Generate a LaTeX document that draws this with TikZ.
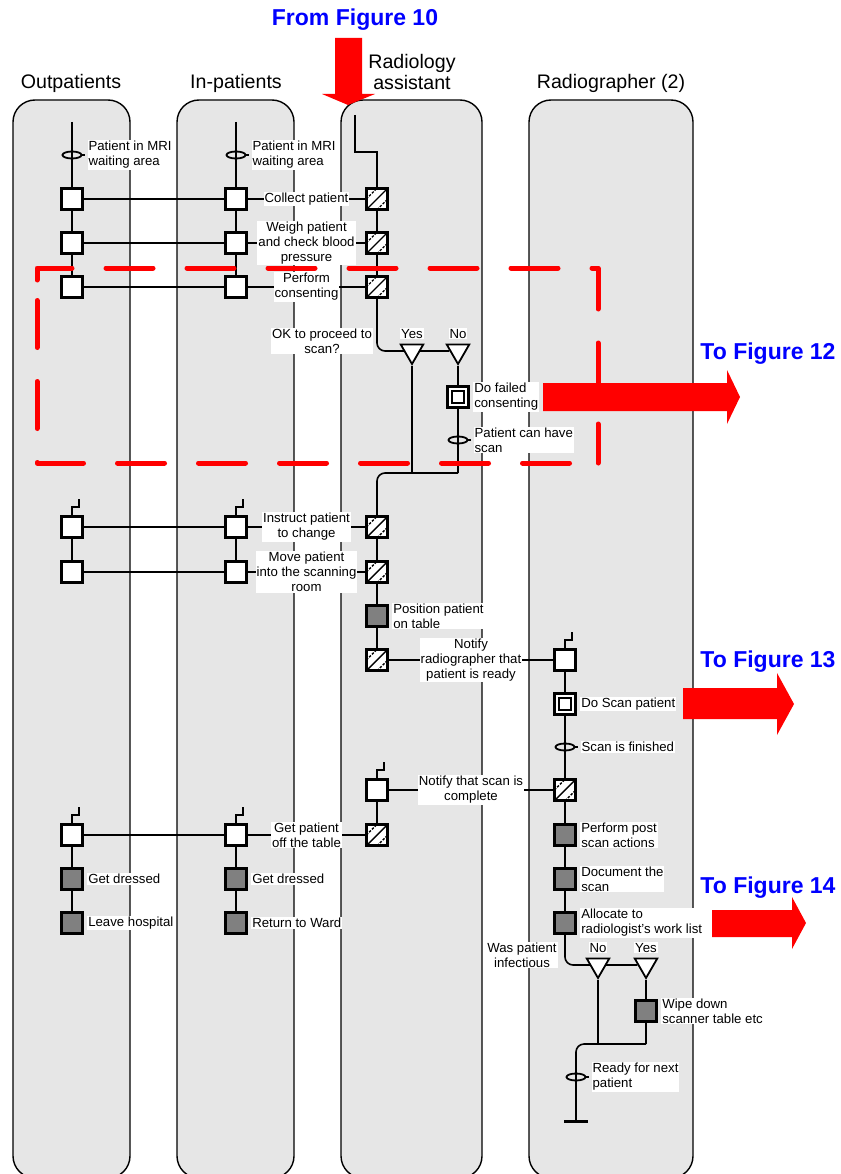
\documentclass[tikz,border=0pt]{standalone}
\usepackage{fontspec}
\setmainfont{Liberation Sans}
\usetikzlibrary{positioning,shapes.geometric}
\definecolor{lanegray}{RGB}{230,230,230}
\definecolor{boxgray}{RGB}{128,128,128}
\definecolor{figblue}{RGB}{0,0,255}
\pgfdeclarelayer{back}
\pgfdeclarelayer{links}
\pgfsetlayers{back,links,main}
\newcommand{\lblfont}{\fontsize{13.2}{15}\selectfont}

\begin{document}
\begin{tikzpicture}[
    x = 1pt, y = -1pt,
    lane/.style = {draw, line width = 1.4pt, fill = lanegray, rounded corners = 22pt},
    lanehead/.style = {font = \fontsize{19.6}{21}\selectfont, align = center},
    figref/.style = {font = \fontsize{23}{26}\selectfont\bfseries, text = figblue},
    flow/.style = {line width = 1.6pt},
    task/.style = {draw, line width = 2.7pt, fill = white, minimum size = 21.5pt, inner sep = 0pt},
    manual/.style = {task, fill = boxgray},
    shared/.style = {task, path picture = {
        \draw[line width = 1.4pt] (path picture bounding box.south west) -- (path picture bounding box.north east);
        \draw[line width = 1.4pt, dash pattern = on 2.5pt off 1.5pt] (path picture bounding box.west) -- (path picture bounding box.north);
        \draw[line width = 1.4pt, dash pattern = on 2.5pt off 1.5pt] (path picture bounding box.south) -- (path picture bounding box.east);
      }},
    subproc/.style = {task, path picture = {
        \draw[line width = 1.6pt] ([shift = {(-6pt, -6pt)}]path picture bounding box.center) rectangle ([shift = {(6pt, 6pt)}]path picture bounding box.center);
      }},
    event/.style = {draw, ellipse, line width = 1.8pt, minimum width = 19pt, minimum height = 7pt, inner sep = 0pt},
    dec/.style = {draw, fill = white, line width = 1.8pt, regular polygon, regular polygon sides = 3,
      shape border rotate = 180, minimum size = 26pt, inner sep = 0pt},
    note/.style = {fill = white, inner sep = 1pt, align = center, font = \lblfont},
    lnote/.style = {note, align = left},
    reddash/.style = {draw = red, line width = 5pt, line cap = round, line join = round,
      dash pattern = on 47pt off 34pt}
  ]
  \useasboundingbox (0, 0) rectangle (840, 1174);
  % lanes
  \begin{pgfonlayer}{back}
    \draw[lane] (13, 100)  rectangle (130, 1178);
    \draw[lane] (177, 100) rectangle (294, 1178);
    \draw[lane] (341, 100) rectangle (482, 1178);
    \draw[lane] (529, 100) rectangle (693, 1178);
  \end{pgfonlayer}
  \node[lanehead] (hout) at (71, 83)  {Outpatients};
  \node[lanehead] (hin)  at (236, 83) {In-patients};
  \node[lanehead] (hra)  at (412, 72) {Radiology\\assistant};
  \node[lanehead] (hrg)  at (611, 83) {Radiographer (2)};
  % up to consenting
  \coordinate (os) at (72, 122);
  \node[event] (oe) at (72, 155)  {};
  \node[task]  (o1) at (72, 199)  {};
  \node[task]  (o2) at (72, 243)  {};
  \node[task]  (o3) at (72, 287)  {};
  \coordinate (is) at (236, 122);
  \node[event] (ie) at (236, 155) {};
  \node[task]  (i1) at (236, 199) {};
  \node[task]  (i2) at (236, 243) {};
  \node[task]  (i3) at (236, 287) {};
  \coordinate (rs) at (355, 115);
  \coordinate (rb) at (355, 152);
  \node[shared] (r1)  at (377, 199) {};
  \node[shared] (r2)  at (377, 243) {};
  \node[shared] (r3)  at (377, 287) {};
  \node[dec]    (dyes) at (412, 351) {};
  \node[dec]    (dno)  at (458, 351) {};
  \node[subproc] (f1) at (458, 397) {};
  \node[event]  (fe)  at (458, 440) {};
  \coordinate (jn) at (412, 473);
  \coordinate (jr) at (458, 473);
  % scanning
  \node[task]   (o4) at (72, 527)  {};
  \node[task]   (o5) at (72, 572)  {};
  \node[task]   (i4) at (236, 527) {};
  \node[task]   (i5) at (236, 572) {};
  \node[shared] (r4) at (377, 527) {};
  \node[shared] (r5) at (377, 572) {};
  \node[manual] (r6) at (377, 616) {};
  \node[shared] (r7) at (377, 660) {};
  \node[task]    (g1) at (565, 660) {};
  \node[subproc] (g2) at (565, 704) {};
  \node[event]   (ge) at (565, 747) {};
  \node[shared]  (g3) at (565, 790) {};
  \node[task]   (r8) at (377, 790) {};
  \node[shared] (r9) at (377, 835) {};
  % after the scan
  \node[task]   (o6) at (72, 835)  {};
  \node[manual] (o7) at (72, 879)  {};
  \node[manual] (o8) at (72, 923)  {};
  \node[task]   (i6) at (236, 835) {};
  \node[manual] (i7) at (236, 879) {};
  \node[manual] (i8) at (236, 923) {};
  \node[manual] (g4) at (565, 835) {};
  \node[manual] (g5) at (565, 879) {};
  \node[manual] (g6) at (565, 923) {};
  \node[dec]    (dno2)  at (598, 965) {};
  \node[dec]    (dyes2) at (646, 965) {};
  \node[manual] (g7) at (646, 1011) {};
  \coordinate (jn2) at (598, 1044);
  \coordinate (jw)  at (646, 1044);
  \node[event]  (ge2) at (576, 1077) {};
  \coordinate (gend) at (576, 1121);
  % labels beside the boxes
  \node[lnote, right = 5pt of oe] {Patient in MRI\\waiting area};
  \node[lnote, right = 5pt of ie] {Patient in MRI\\waiting area};
  \node[note] at (322, 341) {OK to proceed to\\scan?};
  \node[note, above = 4pt of dyes] {Yes};
  \node[note, above = 4pt of dno]  {No};
  \node[lnote, right = 3pt of f1] {Do failed\\consenting};
  \node[lnote, right = 5pt of fe] {Patient can have\\scan};
  \node[lnote, right = 3pt of r6] {Position patient\\on table};
  \node[lnote, right = 3pt of g2] {Do Scan patient};
  \node[lnote, right = 5pt of ge] {Scan is finished};
  \node[lnote, right = 3pt of g4] {Perform post\\scan actions};
  \node[lnote, right = 3pt of g5] {Document the\\scan};
  \node[lnote, right = 3pt of g6] {Allocate to\\radiologist's work list};
  \node[lnote, right = 3pt of o7] {Get dressed};
  \node[lnote, right = 3pt of o8] {Leave hospital};
  \node[lnote, right = 3pt of i7] {Get dressed};
  \node[lnote, right = 3pt of i8] {Return to Ward};
  \node[note] at (522, 955) {Was patient\\infectious};
  \node[note, above = 4pt of dno2]  {No};
  \node[note, above = 4pt of dyes2] {Yes};
  \node[lnote, right = 3pt of g7] {Wipe down\\scanner table etc};
  \node[lnote, right = 5pt of ge2] {Ready for next\\patient};
  % connectors
  \begin{pgfonlayer}{links}
    \draw[flow] (os) -- (oe.center) -- (o1) -- (o2) -- (o3);
    \draw[flow] (is) -- (ie.center) -- (i1) -- (i2) -- (i3);
    \draw[flow] (rs) -- (rb) -| (r1);
    \draw[flow] (r1) -- (r2) -- (r3);
    \draw[flow] (o1) -- (i1) -- node[note] {Collect patient} (r1);
    \draw[flow] (o2) -- (i2) -- node[note] {Weigh patient\\and check blood\\pressure} (r2);
    \draw[flow] (o3) -- (i3) -- node[note] {Perform\\consenting} (r3);
    \draw[flow, rounded corners = 8pt] (r3) |- (dno);
    \draw[flow] (dyes) -- (jn);
    \draw[flow] (dno) -- (f1) -- (fe.center) -- (jr);
    \draw[flow, rounded corners = 8pt] (jr) -| (r4);
    \draw[flow] (r4) -- (r5) -- (r6) -- (r7);
    \draw[flow] (o4) -- (o5);
    \draw[flow] (i4) -- (i5);
    \draw[flow] (o4) -- (i4) -- node[note] {Instruct patient\\to change} (r4);
    \draw[flow] (o5) -- (i5) -- node[note] {Move patient\\into the scanning\\room} (r5);
    \draw[flow] (r7) -- node[note] {Notify\\radiographer that\\patient is ready} (g1);
    \draw[flow] (g1) -- (g2) -- (ge.center) -- (g3) -- (g4) -- (g5) -- (g6);
    \draw[flow] (g3) -- node[note] {Notify that scan is\\complete} (r8);
    \draw[flow] (r8) -- (r9);
    \draw[flow] (o6) -- (i6) -- node[note] {Get patient\\off the table} (r9);
    \draw[flow] (o6) -- (o7) -- (o8);
    \draw[flow] (i6) -- (i7) -- (i8);
    \draw[flow, rounded corners = 8pt] (g6) |- (dyes2);
    \draw[flow] (dno2) -- (jn2);
    \draw[flow] (dyes2) -- (g7) -- (jw);
    \draw[flow, rounded corners = 8pt] (jw) -| (ge2.center) -- (gend);
    % start flags, event tips and the end bar
    \foreach \n in {o4, i4, g1, r8, o6, i6}
      \draw[flow] (\n.north) -- ++(0, -8) -- ++(7, 0) -- ++(0, -8);
    \foreach \n in {oe, ie, fe, ge, ge2}
      \draw[line width = 1.2pt] (\n.east) -- ++(2.5, 0);
    \draw[line width = 3pt] ([xshift = -12pt] gend) -- ([xshift = 12pt] gend);
  \end{pgfonlayer}
  % the part that goes on to figure 12
  \draw[reddash] (37, 280) -- (37, 268) -- (598, 268) -- (598, 463);
  \draw[reddash, dash phase = 52.5pt] (598, 463) -- (37, 463) -- (37, 280);
  % links to other figures
  \fill[red] (335, 38) -- (362, 38) -- (362, 94) -- (375, 94) -- (348, 105) -- (322, 94) -- (335, 94) -- cycle;
  \fill[red] (543, 383) -- (727, 383) -- (727, 370) -- (740, 397) -- (727, 424) -- (727, 411) -- (543, 411) -- cycle;
  \fill[red] (683, 688) -- (777, 688) -- (777, 673) -- (794, 704) -- (777, 735) -- (777, 719) -- (683, 719) -- cycle;
  \fill[red] (712, 910) -- (792, 910) -- (792, 897) -- (806, 923) -- (792, 949) -- (792, 937) -- (712, 937) -- cycle;
  \node[figref] (from10) at (355, 20)  {From Figure 10};
  \node[figref] (to12)   at (768, 354) {To Figure 12};
  \node[figref] (to13)   at (768, 662) {To Figure 13};
  \node[figref] (to14)   at (768, 888) {To Figure 14};
\end{tikzpicture}
\end{document}
